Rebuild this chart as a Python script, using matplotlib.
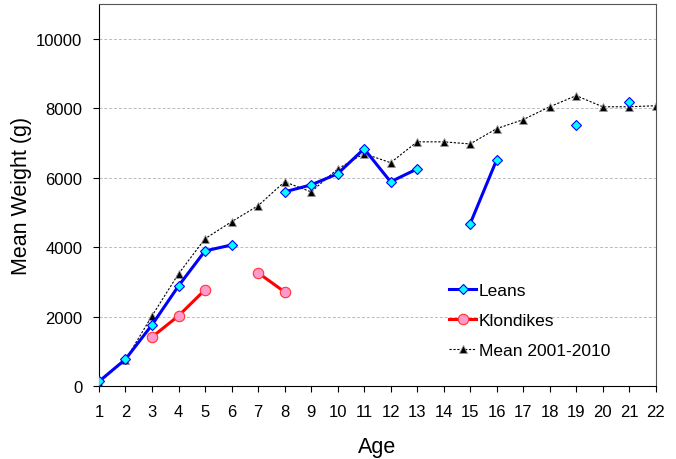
import numpy as np
import matplotlib
matplotlib.use("Agg")
import matplotlib.pyplot as plt

plt.rcParams['font.family'] = ['Liberation Sans', 'DejaVu Sans']

ages = list(range(1, 23))
nan = np.nan

leans = [130, 770, 1760, 2880, 3890, 4060, nan, 5590, 5790, 6110, 6830,
         5880, 6250, nan, 4670, 6510, nan, nan, 7520, nan, 8180, nan]
klondikes = [nan, nan, 1410, 2020, 2770, nan, 3260, 2710, nan, nan, nan,
             nan, nan, nan, nan, nan, nan, nan, nan, nan, nan, nan]
mean_2001_2010 = [100, 750, 2020, 3230, 4240, 4730, 5190, 5880, 5590, 6250,
                  6690, 6430, 7030, 7030, 6970, 7410, 7670, 8040, 8360,
                  8040, 8040, 8070]

yticks = [0, 2000, 4000, 6000, 8000, 10000]

fig = plt.figure(figsize=(6.76, 4.6), dpi=100)
ax = fig.add_axes([0.1464, 0.1587, 0.8236, 0.8305])

ax.plot(ages, mean_2001_2010, color='black', lw=0.8, ls=(0, (2, 1.5)),
        marker='^', ms=6, mfc='black', mec='#999999', mew=0.6,
        label='Mean 2001-2010', zorder=2)
ax.plot(ages, leans, color='#0000FF', lw=2.2, marker='D', ms=5.5,
        mfc='#00FFFF', mec='#0000FF', mew=0.8, label='Leans', zorder=4)
ax.plot(ages, klondikes, color='#FF0000', lw=2.2, marker='o', ms=7.5,
        mfc='#FF99CC', mec='#FF3333', mew=0.8, label='Klondikes', zorder=3)

ax.set_xlim(1, 22)
ax.set_ylim(0, 11000)
ax.set_xticks(ages)
ax.set_yticks(yticks)
ax.tick_params(labelsize=12, direction='out', length=4, colors='black')
ax.tick_params(axis='x', pad=9)
ax.tick_params(axis='y', pad=8)
ax.yaxis.grid(True, color='#BBBBBB', ls=(0, (3, 2)), lw=0.7)
ax.set_axisbelow(True)
for s in ['left', 'bottom']:
    ax.spines[s].set_color('black')
for s in ['top', 'right']:
    ax.spines[s].set_color('#555555')

ax.set_xlabel('Age', fontsize=15.5, labelpad=12)
ax.set_ylabel('Mean Weight (g)', fontsize=15.5, labelpad=3)

handles, labels = ax.get_legend_handles_labels()
order = [1, 2, 0]
ax.legend([handles[i] for i in order], [labels[i] for i in order],
          loc='upper left', bbox_to_anchor=(0.6, 0.31), frameon=False,
          fontsize=12.5, handlelength=1.6, handletextpad=0.12,
          labelspacing=0.85)

fig.savefig('out.png', dpi=100)
